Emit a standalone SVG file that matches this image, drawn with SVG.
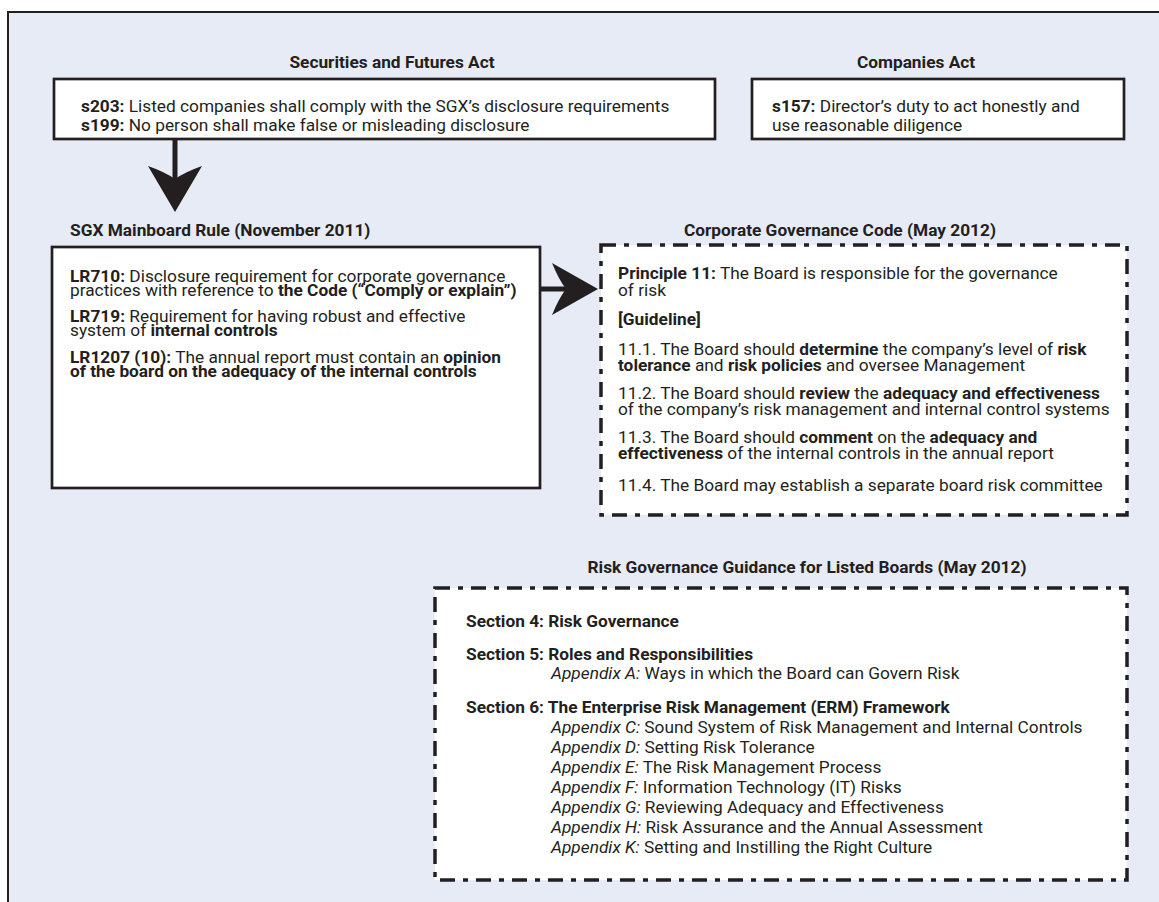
<svg xmlns="http://www.w3.org/2000/svg" width="1159" height="902" viewBox="0 0 1159 902">
<style>
.t{font-family:Roboto,"Liberation Sans",Arial,sans-serif;font-size:17.3px;fill:#231f20}
.b{font-weight:bold}
.i{font-style:italic}
.c{text-anchor:middle}
.solid{fill:#fff;stroke:#231f20;stroke-width:2.7}
.dash{fill:#fff;stroke:#231f20;stroke-width:3.5;stroke-dasharray:15 8 5 8}
.arr{fill:#231f20;stroke:none}
</style>
<rect x="0" y="0" width="1159" height="902" fill="#fff"/>
<rect id="frame" x="8" y="12" width="1200" height="1000" fill="#e7ebf6" stroke="#231f20" stroke-width="2"/>

<g id="sfa">
<text class="t b c" x="392" y="68">Securities and Futures Act</text>
<rect class="solid" x="54" y="79" width="661" height="60"/>
<text class="t" x="81" y="112"><tspan class="b">s203:</tspan> Listed companies shall comply with the SGX’s disclosure requirements</text>
<text class="t" x="81" y="131"><tspan class="b">s199:</tspan> No person shall make false or misleading disclosure</text>
</g>

<g id="companies">
<text class="t b c" x="916" y="68">Companies Act</text>
<rect class="solid" x="752" y="79" width="372" height="60"/>
<text class="t" x="772" y="112"><tspan class="b">s157:</tspan> Director’s duty to act honestly and</text>
<text class="t" x="772" y="131">use reasonable diligence</text>
</g>

<g id="sgx">
<text class="t b" x="70" y="236">SGX Mainboard Rule (November 2011)</text>
<rect class="solid" x="52" y="247" width="488" height="241"/>
<text class="t" x="70" y="282"><tspan class="b">LR710:</tspan> Disclosure requirement for corporate governance</text>
<text class="t" x="70" y="296">practices with reference to <tspan class="b">the Code (“Comply or explain”)</tspan></text>
<text class="t" x="70" y="322"><tspan class="b">LR719:</tspan> Requirement for having robust and effective</text>
<text class="t" x="70" y="336">system of <tspan class="b">internal controls</tspan></text>
<text class="t" x="70" y="363"><tspan class="b">LR1207 (10):</tspan> The annual report must contain an <tspan class="b">opinion</tspan></text>
<text class="t b" x="70" y="377">of the board on the adequacy of the internal controls</text>
</g>

<g id="cgc">
<text class="t b c" x="840" y="236">Corporate Governance Code (May 2012)</text>
<rect class="dash" x="601" y="245" width="526" height="270"/>
<text class="t" x="618" y="279"><tspan class="b">Principle 11:</tspan> The Board is responsible for the governance</text>
<text class="t" x="618" y="296">of risk</text>
<text class="t b" x="618" y="325">[Guideline]</text>
<text class="t" x="618" y="355">11.1. The Board should <tspan class="b">determine</tspan> the company’s level of <tspan class="b">risk</tspan></text>
<text class="t" x="618" y="371"><tspan class="b">tolerance</tspan> and <tspan class="b">risk policies</tspan> and oversee Management</text>
<text class="t" x="618" y="399">11.2. The Board should <tspan class="b">review</tspan> the <tspan class="b">adequacy and effectiveness</tspan></text>
<text class="t" x="618" y="415">of the company’s risk management and internal control systems</text>
<text class="t" x="618" y="443">11.3. The Board should <tspan class="b">comment</tspan> on the <tspan class="b">adequacy and</tspan></text>
<text class="t" x="618" y="459"><tspan class="b">effectiveness</tspan> of the internal controls in the annual report</text>
<text class="t" x="618" y="491">11.4. The Board may establish a separate board risk committee</text>
</g>

<g id="rgg">
<text class="t b c" x="807" y="573">Risk Governance Guidance for Listed Boards (May 2012)</text>
<rect class="dash" x="435" y="588" width="692" height="292"/>
<text class="t b" x="466" y="627">Section 4: Risk Governance</text>
<text class="t b" x="466" y="660">Section 5: Roles and Responsibilities</text>
<text class="t" x="551" y="679"><tspan class="i">Appendix A:</tspan> Ways in which the Board can Govern Risk</text>
<text class="t b" x="466" y="713">Section 6: The Enterprise Risk Management (ERM) Framework</text>
<text class="t" x="551" y="733"><tspan class="i">Appendix C:</tspan> Sound System of Risk Management and Internal Controls</text>
<text class="t" x="551" y="753"><tspan class="i">Appendix D:</tspan> Setting Risk Tolerance</text>
<text class="t" x="551" y="773"><tspan class="i">Appendix E:</tspan> The Risk Management Process</text>
<text class="t" x="551" y="793"><tspan class="i">Appendix F:</tspan> Information Technology (IT) Risks</text>
<text class="t" x="551" y="813"><tspan class="i">Appendix G:</tspan> Reviewing Adequacy and Effectiveness</text>
<text class="t" x="551" y="833"><tspan class="i">Appendix H:</tspan> Risk Assurance and the Annual Assessment</text>
<text class="t" x="551" y="853"><tspan class="i">Appendix K:</tspan> Setting and Instilling the Right Culture</text>
</g>

<g id="connectors">
<rect class="arr" x="172.5" y="139" width="5" height="40"/>
<path class="arr" d="M175 212 L148 166 Q165 172 175 179 Q185 172 202 166 Z"/>
<rect class="arr" x="540" y="286.5" width="26" height="5"/>
<path class="arr" d="M598 289 L552 263 Q559 280 566 289 Q559 298 552 315 Z"/>
</g>
</svg>
